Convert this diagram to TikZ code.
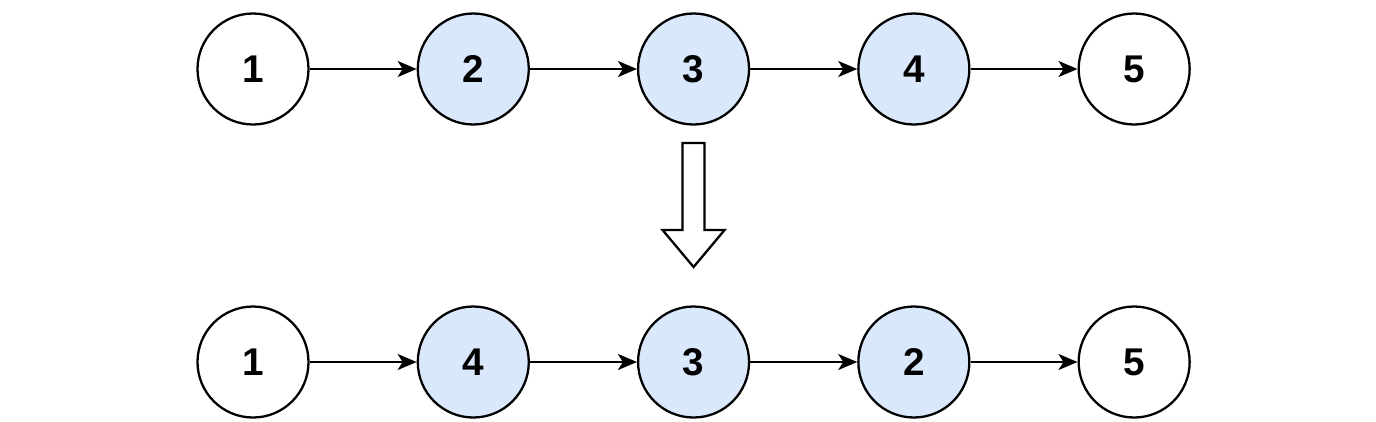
\documentclass[tikz,border=0pt]{standalone}
\usepackage{fontspec}
\setmainfont{Liberation Sans}
\usetikzlibrary{positioning,arrows.meta}

\definecolor{swapblue}{HTML}{DAE8FC}

\tikzset{
  item/.style={circle,draw,line width=1.3pt,minimum size=2.22cm,inner sep=0pt,
    font=\fontsize{22}{24}\selectfont\bfseries},
  moved/.style={item,fill=swapblue},
  link/.style={line width=1.2pt,-{Stealth[length=0.38cm,width=0.32cm,inset=0.1cm]}}
}

\begin{document}
\begin{tikzpicture}[node distance=2.14cm]
  \useasboundingbox (0,0) rectangle (27.52,-8.42);

  \node (a1) [item] at (5.06,-1.38) {1};
  \node (a2) [moved,right=of a1] {2};
  \node (a3) [moved,right=of a2] {3};
  \node (a4) [moved,right=of a3] {4};
  \node (a5) [item,right=of a4]  {5};

  \node (b1) [item] at (5.06,-7.24) {1};
  \node (b2) [moved,right=of b1] {4};
  \node (b3) [moved,right=of b2] {3};
  \node (b4) [moved,right=of b3] {2};
  \node (b5) [item,right=of b4]  {5};

  \foreach \i/\j in {1/2,2/3,3/4,4/5} {
    \draw[link] (a\i) -- (a\j);
    \draw[link] (b\i) -- (b\j);
  }

  % block arrow between the rows
  \draw[line width=1.3pt,line join=miter]
    ([xshift=-0.22cm]a3.center |- 0,-2.86) -- ([xshift=0.22cm]a3.center |- 0,-2.86)
    -- ([xshift=0.22cm]a3.center |- 0,-4.6) -- ([xshift=0.62cm]a3.center |- 0,-4.6)
    -- (a3.center |- 0,-5.34) -- ([xshift=-0.62cm]a3.center |- 0,-4.6)
    -- ([xshift=-0.22cm]a3.center |- 0,-4.6) -- cycle;
\end{tikzpicture}
\end{document}
